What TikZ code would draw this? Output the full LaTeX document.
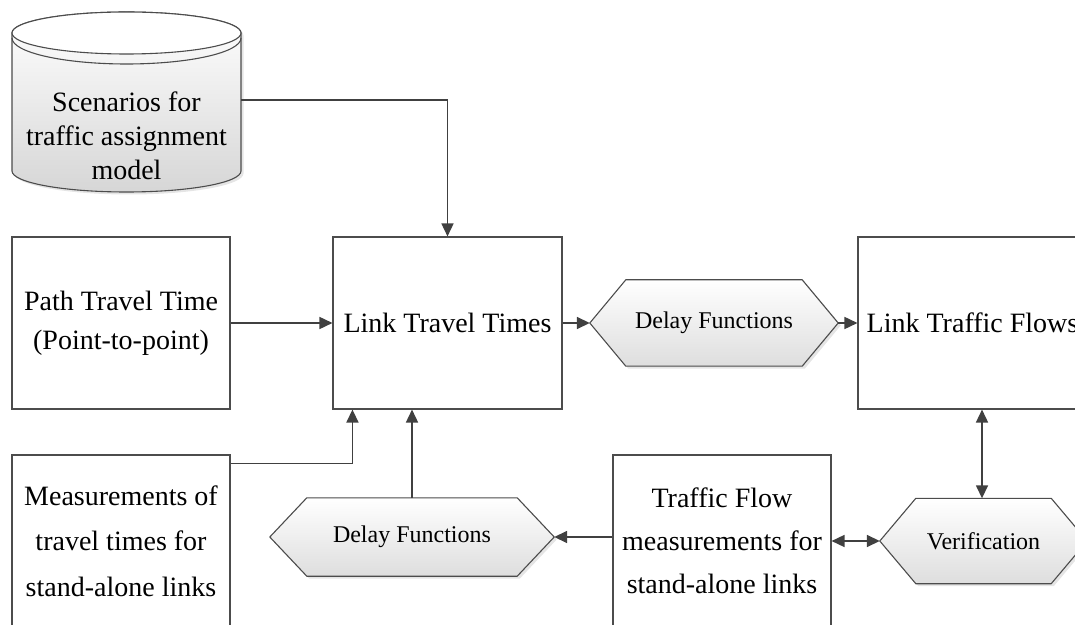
\documentclass[tikz,border=0pt]{standalone}
\usepackage{fontspec}
\setmainfont{Liberation Serif}
\usetikzlibrary{arrows.meta,backgrounds,calc}
\newcommand\hexshape[2]{%
  \fill[black!10, transform canvas={shift={(2.5pt,-2.5pt)}}] (#1.west) -- ([xshift=#2]#1.north west) -- ([xshift=-#2]#1.north east) -- (#1.east) -- ([xshift=-#2]#1.south east) -- ([xshift=#2]#1.south west) -- cycle;
  \draw[hexdraw] (#1.west) -- ([xshift=#2]#1.north west) -- ([xshift=-#2]#1.north east) -- (#1.east) -- ([xshift=-#2]#1.south east) -- ([xshift=#2]#1.south west) -- cycle;}
\begin{document}
\begin{tikzpicture}[x=1pt,y=1pt,
  box/.style={draw=black!70, line width=1.1pt, fill=white, minimum width=#1, minimum height=172pt, inner sep=0pt, align=center},
  box/.default=218pt,
  hexnode/.style={inner sep=0pt, align=center, font=\fontsize{24}{28}\selectfont},
  hexdraw/.style={draw=black!70, line width=1.1pt, top color=white, bottom color=black!13},
  conn/.style={draw=black!75, line width=1.6pt, -{Triangle[length=13pt,width=12pt]}},
  dconn/.style={draw=black!75, line width=1.6pt, {Triangle[length=13pt,width=12pt]}-{Triangle[length=13pt,width=12pt]}}
]
\useasboundingbox (0,0) rectangle (1075,624);
\clip (0,0) rectangle (1075,624);

% cylinder
\fill[black!10, transform canvas={shift={(2.5pt,-2.5pt)}}] (12,591) -- (12,453) arc (180:360:114.5 and 21) -- (241,591) arc (0:180:114.5 and 21) -- cycle;
\draw[draw=black!70, line width=1.1pt, top color=white, bottom color=black!16] (12,591) -- (12,453) arc (180:360:114.5 and 21) -- (241,591) arc (0:180:114.5 and 21) -- cycle;
\draw[draw=black!70, line width=1.1pt, fill=white] (126.5,591) ellipse (114.5 and 21);
\draw[draw=black!70, line width=1.1pt] (12,586) arc (180:360:114.5 and 26);
\node[minimum width=229pt, inner sep=0pt, align=center, font=\fontsize{28}{34}\selectfont] (scen) at (126.5,488) {Scenarios for\\traffic assignment\\model};

% boxes
\node[box=229pt, font=\fontsize{28}{39}\selectfont] (ltt) at (447.5,301) {Link Travel Times};
\node[box, font=\fontsize{28}{39}\selectfont] (path) at (121,301) {Path Travel Time\\(Point-to-point)};
\node[box, font=\fontsize{28}{45.5}\selectfont] (meas) at (121,83) {Measurements of\\travel times for\\stand-alone links};
\node[box, font=\fontsize{28}{43}\selectfont] (tfm) at (722,83) {Traffic Flow\\measurements for\\stand-alone links};
\node[box=229pt, font=\fontsize{28}{39}\selectfont] (ltf) at (972.5,301) {Link Traffic Flows};

% hexagons
\node[hexnode, minimum width=248pt, minimum height=86pt] (df1) at (714,301) {Delay Functions};
\node[hexnode, minimum width=284pt, minimum height=78pt] (df2) at (412,87) {Delay Functions};
\node[hexnode, minimum width=207pt, minimum height=85pt] (ver) at (983.5,83) {Verification};
\begin{scope}[on background layer]
\hexshape{df1}{36pt}
\hexshape{df2}{37pt}
\hexshape{ver}{36pt}
\end{scope}

% connectors
\draw[conn] ($(scen.east)+(0,36)$) -| (ltt.north);
\draw[conn] (path.east) -- (ltt.west);
\draw[conn] ([yshift=-9pt]meas.north east) -| ([xshift=20pt]ltt.south west);
\draw[conn] (df2.north) -- (df2.north |- ltt.south);
\draw[conn] (ltt.east) -- (df1.west);
\draw[conn] (df1.east) -- (ltf.west);
\draw[conn] (tfm.west |- df2.east) -- (df2.east);
\draw[dconn] (tfm.east |- ver.west) -- (ver.west);
\draw[dconn] ([xshift=-1.5pt]ver.north |- ltf.south) -- ([xshift=-1.5pt]ver.north);
\end{tikzpicture}
\end{document}
